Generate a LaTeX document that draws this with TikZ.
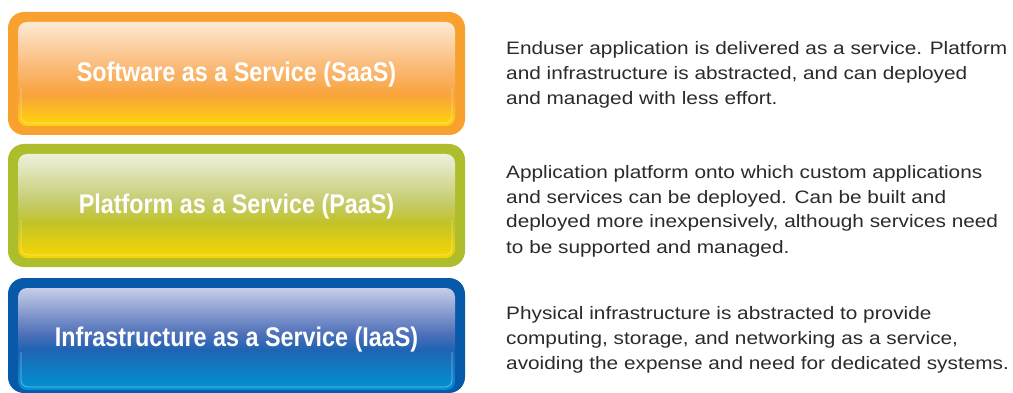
\documentclass[tikz,border=0pt]{standalone}
\usepackage{fontspec}
\setmainfont{Liberation Sans}[FakeStretch=1.155]
\newfontfamily\boxfont{Liberation Sans}[FakeStretch=0.865]
\definecolor{saasframe}{HTML}{F8A12E}
\definecolor{saasA}{HTML}{FDE9D3}
\definecolor{saasM}{HTML}{FAB872}
\definecolor{saasB}{HTML}{F9A33A}
\definecolor{saasC}{HTML}{FFD60A}
\definecolor{paasframe}{HTML}{AEBD2B}
\definecolor{paasA}{HTML}{EEF0DC}
\definecolor{paasM}{HTML}{C6CC70}
\definecolor{paasB}{HTML}{C2C328}
\definecolor{paasC}{HTML}{F8D700}
\definecolor{iaasframe}{HTML}{0759A9}
\definecolor{iaasA}{HTML}{C7CDE7}
\definecolor{iaasM}{HTML}{4E70B9}
\definecolor{iaasB}{HTML}{1F64B3}
\definecolor{iaasC}{HTML}{0094D4}
\definecolor{desctext}{HTML}{2A2A2A}
\pgfdeclareverticalshading{saasfill}{100bp}{color(0bp)=(saasC); color(25bp)=(saasC); color(40bp)=(saasB); color(52.5bp)=(saasM); color(75bp)=(saasA); color(100bp)=(saasA)}
\pgfdeclareverticalshading{paasfill}{100bp}{color(0bp)=(paasC); color(25bp)=(paasC); color(42bp)=(paasB); color(52.5bp)=(paasM); color(75bp)=(paasA); color(100bp)=(paasA)}
\pgfdeclareverticalshading{iaasfill}{100bp}{color(0bp)=(iaasC); color(25bp)=(iaasC); color(45bp)=(iaasB); color(52.5bp)=(iaasM); color(75bp)=(iaasA); color(100bp)=(iaasA)}
\tikzset{
  frame/.style={rounded corners=16pt},
  panel/.style={rounded corners=9pt},
  gloss/.style={draw=white, draw opacity=0.45, line width=0.6pt, rounded corners=7pt},
  boxtext/.style={font=\boxfont\bfseries\fontsize{27}{30}\selectfont, text=white, inner sep=0pt},
  desc/.style={font=\fontsize{18}{25}\selectfont, text=desctext, align=left, inner sep=0pt}
}
\begin{document}
\begin{tikzpicture}[x=1pt,y=-1pt]
\useasboundingbox (0,0) rectangle (1013,393);
% SaaS
\fill[saasframe, frame] (8,12) rectangle (465,135);
\shade[shading=saasfill, panel] (18,22) rectangle (455,126);
\draw[gloss] (21,88) |- (452,123) -- (452,88);
\node[boxtext, anchor=base] (saas) at (236.5,82) {Software as a Service (SaaS)};
% PaaS
\fill[paasframe, frame] (8,144) rectangle (465,267);
\shade[shading=paasfill, panel] (18,154) rectangle (455,258);
\draw[gloss] (21,220) |- (452,255) -- (452,220);
\node[boxtext, anchor=base] (paas) at (236.5,214) {Platform as a Service (PaaS)};
% IaaS
\fill[iaasframe, frame] (8,278) rectangle (465,393);
\shade[shading=iaasfill, panel] (18,288) rectangle (455,390);
\draw[gloss] (21,352) |- (452,387) -- (452,352);
\node[boxtext, anchor=base] (iaas) at (236.5,346) {Infrastructure as a Service (IaaS)};
% descriptions
\node[desc, anchor=base west] (saasdesc) at (506,105) {Enduser application is delivered as a service. Platform\\and infrastructure is abstracted, and can deployed\\and managed with less effort.};
\node[desc, anchor=base west] (paasdesc) at (506,253) {Application platform onto which custom applications\\and services can be deployed. Can be built and\\deployed more inexpensively, although services need\\to be supported and managed.};
\node[desc, anchor=base west] (iaasdesc) at (506,369) {Physical infrastructure is abstracted to provide\\computing, storage, and networking as a service,\\avoiding the expense and need for dedicated systems.};
\end{tikzpicture}
\end{document}
